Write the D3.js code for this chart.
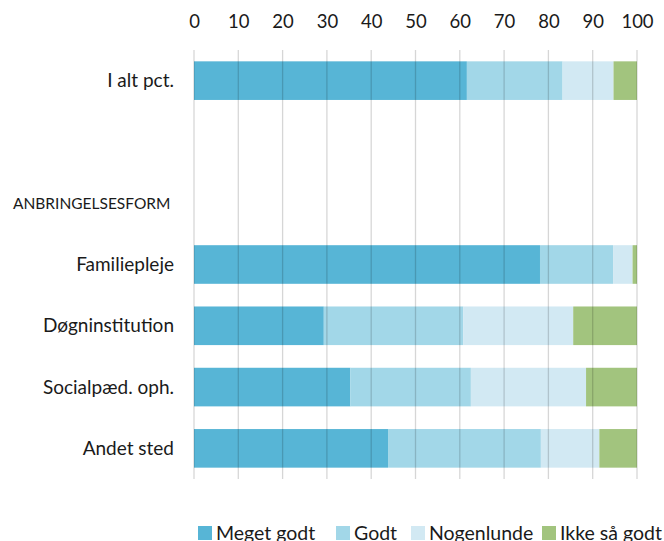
<!DOCTYPE html>
<html><head><meta charset="utf-8">
<script src="https://cdn.jsdelivr.net/npm/d3@7"></script>
<style>body{margin:0;background:#fff}svg{display:block}text{font-family:Lato,"Open Sans",sans-serif;fill:#1a1a1a}</style>
</head><body><svg id="c" width="664" height="541"></svg>
<script>
const rows = ["I alt pct.", "", "ANBRINGELSESFORM", "Familiepleje", "Døgninstitution", "Socialpæd. oph.", "Andet sted"];
const barRows = ["I alt pct.", "Familiepleje", "Døgninstitution", "Socialpæd. oph.", "Andet sted"];
const seriesNames = ["Meget godt", "Godt", "Nogenlunde", "Ikke så godt"];
const megetGodt = [61.6, 78.1, 29.3, 35.3, 43.8];
const godt = [21.6, 16.5, 31.5, 27.2, 34.5];
const nogenlunde = [11.5, 4.4, 24.8, 26.0, 13.2];
const ikkeSaaGodt = [5.3, 1.0, 14.4, 11.5, 8.5];
const ticks = [0, 10, 20, 30, 40, 50, 60, 70, 80, 90, 100];
const colors = ["#57b5d6", "#a2d7e8", "#d2e9f3", "#a2c47e"];

const svg = d3.select("#c");
const x = d3.scaleLinear().domain([0, 100]).range([194, 637]);
const y = d3.scaleBand().domain(rows).range([50, 479]).paddingInner(0.37).paddingOuter(0.185);

const data = barRows.map((r, i) => ({row: r, vals: [megetGodt[i], godt[i], nogenlunde[i], ikkeSaaGodt[i]]}));
const stack = d3.stack().keys([0,1,2,3]).value((d, k) => d.vals[k]);
const layers = stack(data);

svg.append("g").selectAll("g").data(layers).join("g")
  .attr("fill", (d, i) => colors[i])
  .selectAll("rect").data(d => d).join("rect")
  .attr("x", d => x(d[0])).attr("width", d => x(d[1]) - x(d[0]))
  .attr("y", d => y(d.data.row)).attr("height", y.bandwidth());

// gridlines on top
svg.append("g").selectAll("line").data(ticks).join("line")
  .attr("x1", d => x(d)).attr("x2", d => x(d))
  .attr("y1", 50).attr("y2", 479)
  .attr("stroke", "rgba(0,0,0,0.16)").attr("stroke-width", 1.3);

// top axis labels
const ax = d3.axisTop(x).tickValues(ticks).tickSize(0).tickPadding(0);
const axg = svg.append("g").attr("transform", "translate(0,28)").call(ax);
axg.select(".domain").remove();
axg.selectAll("text").attr("font-size", 18.5).attr("font-family", "Lato, sans-serif").attr("fill", "#1a1a1a").attr("dy", 0);

// category labels
svg.append("g").selectAll("text").data(barRows).join("text")
  .attr("x", 174).attr("y", d => y(d) + y.bandwidth()/2)
  .attr("dy", "0.35em").attr("text-anchor", "end").attr("font-size", 19).text(d => d);
svg.append("text").attr("x", 13).attr("y", y(rows[2]) + y.bandwidth()/2).attr("dy", "0.35em")
  .attr("font-size", 15.5).text(rows[2]);

// legend
const legX = [198, 336, 411, 542];
const lg = svg.append("g").selectAll("g").data(seriesNames).join("g")
  .attr("transform", (d, i) => `translate(${legX[i]},526)`);
lg.append("rect").attr("width", 14).attr("height", 14).attr("fill", (d, i) => colors[i]);
lg.append("text").attr("x", 18).attr("y", 13.5).attr("font-size", 19.5).text(d => d);
</script></body></html>
